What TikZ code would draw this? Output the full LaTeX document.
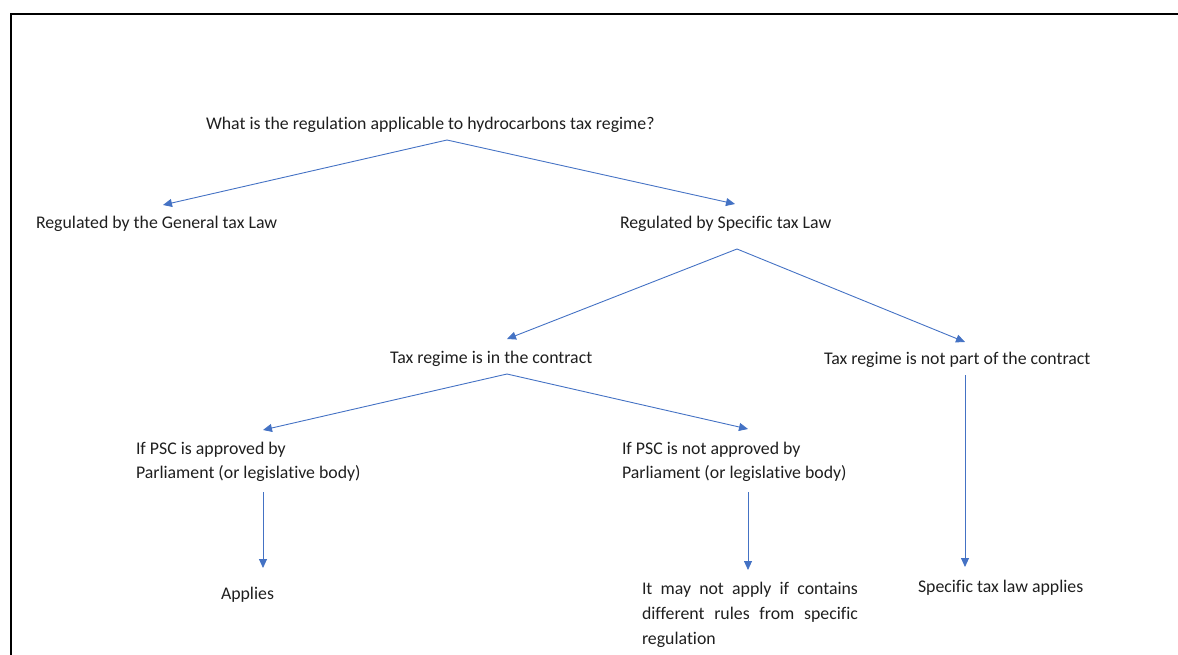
\documentclass[tikz,border=0pt]{standalone}
\usepackage{fontspec}
\setmainfont{Carlito}[Ligatures=NoCommon]
\usetikzlibrary{arrows.meta}
\definecolor{arrowblue}{HTML}{4472C4}
\hyphenpenalty=10000
\exhyphenpenalty=10000
\tikzset{
  lbl/.style={inner sep=0pt, outer sep=0pt, anchor=base west, font=\fontsize{17.8}{24}\selectfont, text=black!88},
  conn/.style={draw=arrowblue, line width=0.9pt, -{Triangle[length=9pt,width=8pt]}, color=arrowblue}
}
\begin{document}
\begin{tikzpicture}[x=1pt,y=-1pt]
\useasboundingbox (0,0) rectangle (1178,655);
\draw[line width=2pt] (1178,14) -- (11,14) -- (11,655);
% labels
\node[lbl] (q) at (206,129.5) {What is the regulation applicable to hydrocarbons tax regime?};
\node[lbl] (gen) at (36,229) {Regulated by the General tax Law};
\node[lbl] (spec) at (620,229) {Regulated by Specific tax Law};
\node[lbl] (inc) at (390,363) {Tax regime is in the contract};
\node[lbl] (notc) at (824,364) {Tax regime is not part of the contract};
\node[lbl, align=left] (appr) at (136,478) {If PSC is approved by\\Parliament (or legislative body)};
\node[lbl, align=left] (napp) at (622,478) {If PSC is not approved by\\Parliament (or legislative body)};
\node[lbl] (appl) at (221,599) {Applies};
\node[lbl, text width=216pt, align=justify, font=\fontsize{17.8}{25}\selectfont] (may) at (642,594) {\hyphenpenalty=10000\relax It may not apply if contains different rules from specific regulation};
\node[lbl] (stl) at (918,592) {Specific tax law applies};
% connector end points
\coordinate (q-s) at (447,140);
\coordinate (gen-n) at (163,205);
\coordinate (spec-n) at (735,204);
\coordinate (spec-s) at (737,249);
\coordinate (inc-n) at (507,339);
\coordinate (notc-n) at (965,342);
\coordinate (inc-s) at (507,374);
\coordinate (appr-n) at (263,430);
\coordinate (napp-n) at (748,429);
\coordinate (appr-s) at (263,492);
\coordinate (appl-n) at (263,568);
\coordinate (napp-s) at (748,492);
\coordinate (may-n) at (748,570);
\coordinate (notc-s) at (965,375);
\coordinate (stl-n) at (965,567);
\draw[conn] (q-s) -- (gen-n);
\draw[conn] (q-s) -- (spec-n);
\draw[conn] (spec-s) -- (inc-n);
\draw[conn] (spec-s) -- (notc-n);
\draw[conn] (inc-s) -- (appr-n);
\draw[conn] (inc-s) -- (napp-n);
\draw[conn] (appr-s) -- (appl-n);
\draw[conn] (napp-s) -- (may-n);
\draw[conn] (notc-s) -- (stl-n);
\end{tikzpicture}
\end{document}
